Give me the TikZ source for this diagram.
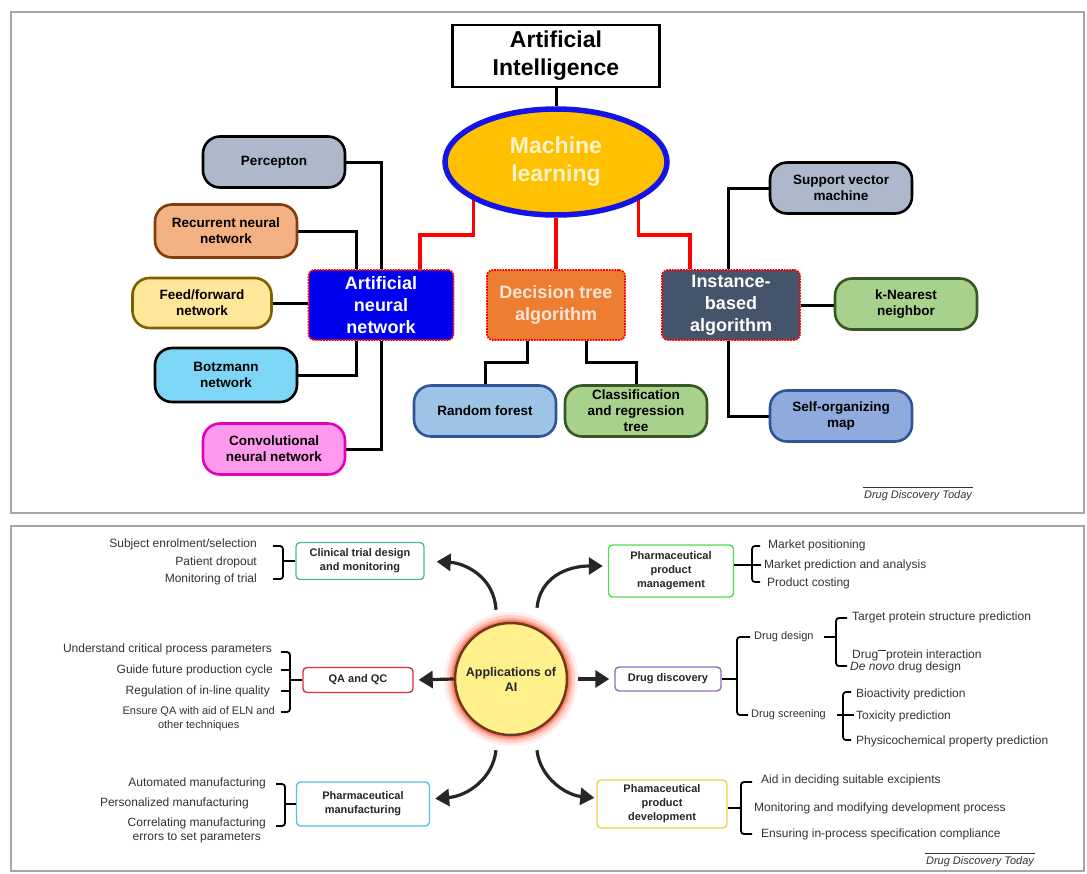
\documentclass[tikz,border=0pt]{standalone}
\usepackage{fontspec}
\setmainfont{Liberation Sans}
\usepackage{tikz}
\usetikzlibrary{arrows.meta, shapes.geometric, backgrounds}
\definecolor{MlOrange}{RGB}{255,192,0}
\definecolor{MlBlue}{RGB}{20,20,230}
\definecolor{MlText}{RGB}{255,242,204}
\definecolor{AnnBlue}{RGB}{0,0,240}
\definecolor{DtOrange}{RGB}{237,125,49}
\definecolor{DtText}{RGB}{252,228,214}
\definecolor{IbSlate}{RGB}{68,84,106}
\definecolor{PercGray}{RGB}{173,185,202}
\definecolor{RecPeach}{RGB}{244,177,131}
\definecolor{RecBrown}{RGB}{132,60,12}
\definecolor{FeedYellow}{RGB}{255,230,153}
\definecolor{FeedOlive}{RGB}{127,96,0}
\definecolor{BotzCyan}{RGB}{125,214,245}
\definecolor{ConvPink}{RGB}{255,153,238}
\definecolor{ConvMagenta}{RGB}{230,0,184}
\definecolor{ForestBlue}{RGB}{157,195,230}
\definecolor{DeepBlue}{RGB}{47,85,151}
\definecolor{LeafGreen}{RGB}{169,209,142}
\definecolor{DarkGreen}{RGB}{56,87,35}
\definecolor{MapBlue}{RGB}{143,170,220}
\definecolor{AppYellow}{RGB}{255,240,140}
\definecolor{AppBrown}{RGB}{110,58,30}
\definecolor{TrialTeal}{RGB}{77,182,168}
\definecolor{MgmtGreen}{RGB}{76,224,76}
\definecolor{QaRed}{RGB}{224,48,48}
\definecolor{DiscPurple}{RGB}{142,107,191}
\definecolor{MfgBlue}{RGB}{79,195,232}
\definecolor{DevYellow}{RGB}{242,210,75}
\definecolor{TextGray}{RGB}{50,50,50}

\begin{document}
\begin{tikzpicture}[x=1pt, y=-1pt,
	pill/.style={draw, line width=2.6pt, rounded corners=17pt, minimum width=142pt, minimum height=51pt, align=center, inner sep=2pt, font=\fontsize{13.5}{16}\selectfont\bfseries},
	algo/.style={draw=red, densely dotted, line width=1.8pt, rounded corners=6pt, minimum width=142pt, minimum height=70pt, align=center, text=white, font=\fontsize{18}{22}\selectfont\bfseries},
	link/.style={line width=3pt, black},
	redlink/.style={line width=3.5pt, red},
	appbox/.style={draw, line width=1.4pt, rounded corners=4pt, fill=white, align=center, text=black!85, font=\fontsize{11}{14}\selectfont\bfseries},
	item/.style={inner sep=1pt, text=TextGray, font=\fontsize{12}{14}\selectfont},
	brk/.style={line width=1.8pt, rounded corners=3pt},
	bigarrow/.style={line width=3.2pt, black!85, -{Triangle[length=14pt,width=17pt]}},
	ddt/.style={inner sep=1pt, text=TextGray, font=\fontsize{11}{13}\selectfont\itshape},
	panel/.style={draw=gray!70, line width=1.5pt}
	]
	\useasboundingbox (0,0) rectangle (1087,873);
	\draw[panel] (11,12) rectangle (1084,513);
	\draw[panel] (11,526) rectangle (1084,871);

	% machine learning tree
	\node[draw, line width=2.8pt, minimum width=207pt, minimum height=62pt, align=center, font=\fontsize{23}{28}\selectfont\bfseries] (ai) at (556,56) {Artificial\\Intelligence};
	\node[ellipse, draw=MlBlue, fill=MlOrange, line width=5.5pt, minimum width=222pt, minimum height=106pt, align=center, text=MlText, font=\fontsize{23}{28}\selectfont\bfseries] (ml) at (556,162) {Machine\\learning};
	\node[algo, fill=AnnBlue, minimum width=145pt] (ann) at (381,305) {Artificial\\neural\\network};
	\node[algo, fill=DtOrange, text=DtText, minimum width=138pt] (dt) at (556,305) {Decision tree\\algorithm};
	\node[algo, fill=IbSlate, minimum width=138pt] (ib) at (731,305) {Instance-\\based\\algorithm};

	\node[pill, fill=PercGray] (perc) at (274,162) {Percepton};
	\node[pill, fill=RecPeach, draw=RecBrown, minimum height=53pt] (rnn) at (226,231) {Recurrent neural\\network};
	\node[pill, fill=FeedYellow, draw=FeedOlive, minimum width=139pt, minimum height=50pt] (ffn) at (202,303) {Feed/forward\\network};
	\node[pill, fill=BotzCyan, minimum height=54pt] (bm) at (226,375) {Botzmann\\network};
	\node[pill, fill=ConvPink, draw=ConvMagenta] (cnn) at (274,449) {Convolutional\\neural network};
	\node[pill, fill=ForestBlue, draw=DeepBlue] (rf) at (485,411) {Random forest};
	\node[pill, fill=LeafGreen, draw=DarkGreen] (cart) at (636,411) {Classification\\and regression\\tree};
	\node[pill, fill=PercGray] (svm) at (841,188) {Support vector\\machine};
	\node[pill, fill=LeafGreen, draw=DarkGreen] (knn) at (906,304) {k-Nearest\\neighbor};
	\node[pill, fill=MapBlue, draw=DeepBlue] (som) at (841,416) {Self-organizing\\map};
	\coordinate (bus) at (556,235);

	\begin{scope}[on background layer]
		\draw[link] (ai.south) -- (ml.north);
		\draw[redlink] (ml.205) -- (ml.205 |- bus) -| ([xshift=39pt]ann.north);
		\draw[redlink] (ml.south) -- (dt.north);
		\draw[redlink] (ml.335) -- (ml.335 |- bus) -| ([xshift=-41pt]ib.north);
		\draw[link] (perc.east) -| (ann.north);
		\draw[link] (rnn.east) -| ([xshift=-25pt]ann.north);
		\draw[link] (ffn.east) -- (ffn.east -| ann.west);
		\draw[link] (bm.east) -| ([xshift=-25pt]ann.south);
		\draw[link] (cnn.east) -| (ann.south);
		\draw[link] ([xshift=-29pt]dt.south) -- ++(0,22) -| (rf.north);
		\draw[link] ([xshift=30pt]dt.south) -- ++(0,22) -| (cart.north);
		\draw[link] (svm.west) -| ([xshift=-3pt]ib.north);
		\draw[link] (ib.east) -- (ib.east -| knn.west);
		\draw[link] (som.west) -| ([xshift=-3pt]ib.south);
	\end{scope}

	\node[ddt] (ddt1) at (918,496) {Drug Discovery Today};
	\draw[line width=1pt, TextGray] ([yshift=2pt]ddt1.north west) -- ([yshift=2pt]ddt1.north east);

	% applications of AI
	\node[circle, draw=AppBrown, fill=AppYellow, line width=2.5pt, minimum size=112pt, align=center, text=black!85, font=\fontsize{12.5}{15}\selectfont\bfseries] (app) at (511,679) {Applications of\\AI};
	\begin{scope}[on background layer]
		\foreach \r/\op in {67/0.08, 64/0.14, 61/0.22, 59/0.35}
			\fill[red!70!orange, opacity=\op] (app.center) circle (\r);
	\end{scope}

	\node[appbox, draw=TrialTeal, minimum width=128pt, minimum height=37pt] (ct) at (360,561) {Clinical trial design\\and monitoring};
	\node[appbox, draw=MgmtGreen, minimum width=125pt, minimum height=52pt] (ppm) at (671,571) {Pharmaceutical\\product\\management};
	\node[appbox, draw=QaRed, minimum width=110pt, minimum height=25pt] (qa) at (358,680) {QA and QC};
	\node[appbox, draw=DiscPurple, minimum width=106pt, minimum height=24pt] (dd) at (668,679) {Drug discovery};
	\node[appbox, draw=MfgBlue, minimum width=133pt, minimum height=44pt] (pm) at (363,804) {Pharmaceutical\\manufacturing};
	\node[appbox, draw=DevYellow, minimum width=130pt, minimum height=48pt] (ppd) at (662,804) {Phamaceutical\\product\\development};

	\draw[bigarrow, shorten >=12pt] ([xshift=-15pt,yshift=12pt]app.north) .. controls (494,576) and (464,563) .. (ct.east);
	\draw[bigarrow, shorten >=5pt] ([xshift=26pt,yshift=14pt]app.north) .. controls (540,578) and (566,566) .. ([yshift=5pt]ppm.west);
	\draw[bigarrow, shorten >=5pt] (app.west) -- (qa.east);
	\draw[bigarrow, shorten <=10pt, shorten >=5pt] (app.east) -- (dd.west);
	\draw[bigarrow, shorten >=5pt] ([xshift=-15pt,yshift=-14pt]app.south) .. controls (493,778) and (468,796) .. ([yshift=5pt]pm.east);
	\draw[bigarrow, shorten >=2pt] ([xshift=26pt,yshift=-14pt]app.south) .. controls (540,778) and (566,795) .. ([yshift=6pt]ppd.west);

	\node[item, anchor=east] (s1) at (258,544) {Subject enrolment/selection};
	\node[item, anchor=east] (s2) at (258,562) {Patient dropout};
	\node[item, anchor=east] (s3) at (258,579) {Monitoring of trial};
	\draw[brk] (273,546) -- (283,546) -- (283,579) -- (273,579);
	\draw[brk] (ct.west) -- ++(-13,0);

	\node[item, anchor=east] (q1) at (273,649) {Understand critical process parameters};
	\node[item, anchor=east] (q2) at (274,670) {Guide future production cycle};
	\node[item, anchor=east] (q3) at (271,691) {Regulation of in-line quality};
	\node[item, anchor=east, align=center, font=\fontsize{11}{14}\selectfont] (q4) at (276,719) {Ensure QA with aid of ELN and\\other techniques};
	\draw[brk] (281,652) -- (290,652) -- (290,712) -- (281,712);
	\draw[brk] (281,670) -- (290,670);
	\draw[brk] (281,691) -- (290,691);
	\draw[brk] (qa.west) -- ++(-13,0);

	\node[item, anchor=east] (m1) at (267,783) {Automated manufacturing};
	\node[item, anchor=east] (m2) at (250,803) {Personalized manufacturing};
	\node[item, anchor=east, align=center] (m3) at (267,830) {Correlating manufacturing\\errors to set parameters};
	\draw[brk] (276,784) -- (285,784) -- (285,826) -- (276,826);
	\draw[brk] (pm.west) -- ++(-12,0);

	\node[item, anchor=west] (p1) at (767,545) {Market positioning};
	\node[item, anchor=west] (p2) at (763,565) {Market prediction and analysis};
	\node[item, anchor=west] (p3) at (766,583) {Product costing};
	\draw[brk] (760,546) -- (752,546) -- (752,582) -- (760,582);
	\draw[brk] (ppm.east |- p2.west) -- ++(27,0);

	\node[item, anchor=west, font=\fontsize{11}{13}\selectfont] (d1) at (753,637) {Drug design};
	\node[item, anchor=west, font=\fontsize{11}{13}\selectfont] (d2) at (750,715) {Drug screening};
	\draw[brk] (750,637) -- (737,637) -- (737,715) -- (748,715);
	\draw[brk] (dd.east) -- ++(16,0);

	\node[item, anchor=west] (t1) at (851,617) {Target protein structure prediction};
	\node[item, anchor=west] (t2) at (851,655) {Drug\raisebox{1.1ex}{\rule{8pt}{1.2pt}}protein interaction};
	\node[item, anchor=west] (t3) at (849,667) {\textit{De novo} drug design};
	\draw[brk] (847,618) -- (836,618) -- (836,666) -- (847,666);
	\draw[brk] ([xshift=9pt]d1.east) -- ++(13,0);

	\node[item, anchor=west] (b1) at (855,694) {Bioactivity prediction};
	\node[item, anchor=west] (b2) at (855,716) {Toxicity prediction};
	\node[item, anchor=west] (b3) at (855,741) {Physicochemical property prediction};
	\draw[brk] (851,692) -- (843,692) -- (843,740) -- (851,740);
	\draw[brk] ([xshift=10pt]d2.east) -- ++(17,0);

	\node[item, anchor=west] (e1) at (760,780) {Aid in deciding suitable excipients};
	\node[item, anchor=west] (e2) at (753,808) {Monitoring and modifying development process};
	\node[item, anchor=west] (e3) at (760,834) {Ensuring in-process specification compliance};
	\draw[brk] (752,782) -- (741,782) -- (741,834) -- (752,834);
	\draw[brk] (ppd.east |- e2.west) -- ++(14,0);

	\node[ddt] (ddt2) at (980,862) {Drug Discovery Today};
	\draw[line width=1pt, TextGray] ([yshift=2pt]ddt2.north west) -- ([yshift=2pt]ddt2.north east);
\end{tikzpicture}
\end{document}
